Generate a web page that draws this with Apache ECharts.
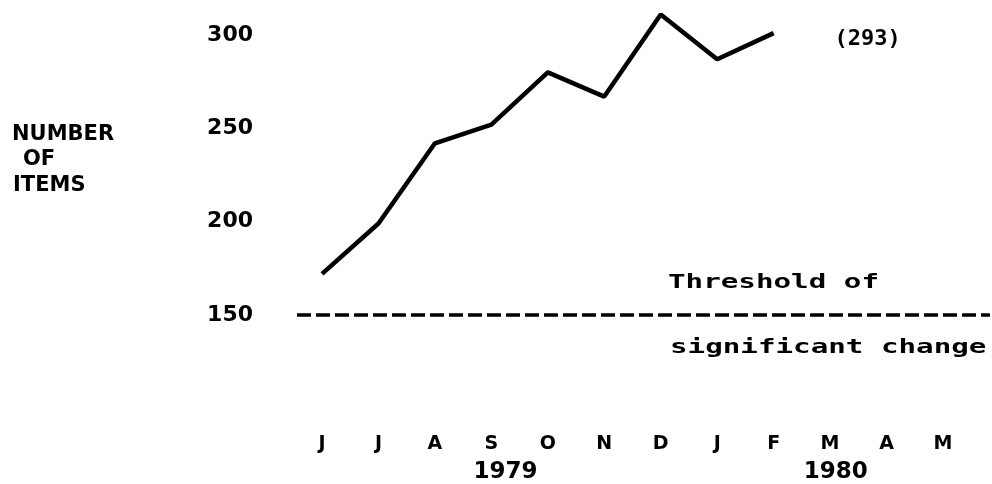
<!DOCTYPE html>
<html><head><meta charset="utf-8">
<script src="https://cdn.jsdelivr.net/npm/echarts@6/dist/echarts.min.js"></script>
<style>html,body{margin:0;padding:0;background:#fff}#c{width:992px;height:484px}</style>
</head><body><div id="c"></div>
<script>
// ---- data ----
const months = ['J','J','A','S','O','N','D','J','F','M','A','M'];
const monthIndex = [0,1,2,3,4,5,6,7,8];
const itemCounts = [172, 199, 242, 252, 280, 267, 311, 287, 301];
const yTicks = [150, 200, 250, 300];
const thresholdValue = 150;
const thresholdText = ['Threshold of', 'significant change'];
const years = ['1979', '1980'];
const yearPositions = [3.25, 9.1];
const lastValueText = '(293)';
const yTitle = ['NUMBER', 'OF', 'ITEMS'];

const FONT = 'DejaVu Sans';
const MONO = 'DejaVu Sans Mono';
const chart = echarts.init(document.getElementById('c'), null, {renderer: 'canvas'});

const lineData = monthIndex.map((m, i) => [m, itemCounts[i]]);
const monthValues = months.map((_, i) => i);

const xMin = -0.443, xMax = 11.833;

chart.setOption({
  backgroundColor: '#fff',
  animation: false,
  grid: {left: 297, right: 2, top: 35, bottom: 169, containLabel: false},
  xAxis: [{
    type: 'value', min: xMin, max: xMax,
    axisLine: {show: false}, axisTick: {show: false}, splitLine: {show: false},
    axisLabel: {
      customValues: monthValues,
      formatter: v => months[Math.round(v)] || '',
      margin: 120, color: '#000', fontFamily: FONT, fontWeight: 'bold', fontSize: 19
    }
  }, {
    type: 'value', min: xMin, max: xMax, position: 'bottom',
    axisLine: {show: false}, axisTick: {show: false}, splitLine: {show: false},
    axisLabel: {
      customValues: yearPositions,
      formatter: v => { const k = yearPositions.findIndex(p => Math.abs(p - v) < 1e-6); return k >= 0 ? years[k] : ''; },
      margin: 146, color: '#000', fontFamily: FONT, fontWeight: 'bold', fontSize: 23
    }
  }],
  yAxis: {
    type: 'value', min: yTicks[0], max: yTicks[yTicks.length - 1], interval: 50,
    axisLine: {show: false}, axisTick: {show: false}, splitLine: {show: false},
    axisLabel: {margin: 44, color: '#000', fontFamily: FONT, fontWeight: 'bold', fontSize: 22}
  },
  series: [{
    type: 'line', xAxisIndex: 0, data: lineData, clip: false,
    symbol: 'none', lineStyle: {color: '#000', width: 4.5}, silent: true,
    endLabel: {
      show: true, formatter: () => lastValueText, distance: 61, offset: [0, 6],
      color: '#000', fontFamily: MONO, fontWeight: 'bold', fontSize: 22
    },
    markLine: {
      silent: true, symbol: 'none',
      lineStyle: {color: '#000', width: 3.5, type: [14, 5]},
      label: {show: false},
      data: [{yAxis: thresholdValue}]
    }
  }],
  graphic: [
    {type: 'text', x: 12, y: 135, style: {text: yTitle[0], fill: '#000', font: 'bold 21px ' + FONT, textVerticalAlign: 'middle'}},
    {type: 'text', x: 23, y: 160, style: {text: yTitle[1], fill: '#000', font: 'bold 21px ' + FONT, textVerticalAlign: 'middle'}},
    {type: 'text', x: 13, y: 186, style: {text: yTitle[2], fill: '#000', font: 'bold 21px ' + FONT, textVerticalAlign: 'middle'}},
    {type: 'text', x: 668, y: 283, scaleX: 1.46, style: {text: thresholdText[0], fill: '#000', font: 'bold 20px ' + MONO, textVerticalAlign: 'middle'}},
    {type: 'text', x: 670, y: 348, scaleX: 1.46, style: {text: thresholdText[1], fill: '#000', font: 'bold 20px ' + MONO, textVerticalAlign: 'middle'}}
  ]
});
</script></body></html>
